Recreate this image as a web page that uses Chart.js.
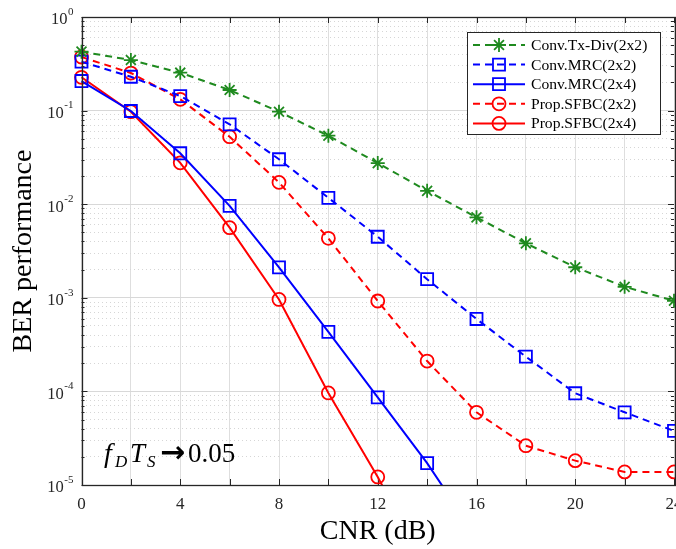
<!DOCTYPE html>
<html>
<head>
<meta charset="utf-8">
<title>BER vs CNR</title>
<script src="https://cdn.jsdelivr.net/npm/chart.js@4.4.0/dist/chart.umd.min.js"></script>
<style>
    html, body { margin: 0; padding: 0; background: #fff; overflow: hidden; }
    #wrap { width: 700px; height: 549px; }
</style>
</head>
<body>
<div id="wrap"><canvas id="berChart"></canvas></div>
<script>
// CNR (dB) on the x axis
const cnr = [0, 2, 4, 6, 8, 10, 12, 14, 16, 18, 20, 22, 24];

// BER values (last points of the 2x4 curves fall below 1e-5)
const txDiv2x2 = [0.426, 0.347, 0.254, 0.166, 0.0973, 0.0539, 0.0275, 0.0139, 0.00724, 0.00382, 0.00212, 0.00131, 0.00093];
const mrc2x2 = [0.333, 0.230, 0.143, 0.0714, 0.0302, 0.0117, 0.00449, 0.00158, 0.000594, 0.000235, 0.0000955, 0.0000598, 0.0000378];
const mrc2x4 = [0.207, 0.099, 0.035, 0.0096, 0.00211, 0.000432, 0.0000865, 0.0000171, 0.0000028];
const sfbc2x2 = [0.374, 0.252, 0.132, 0.0526, 0.0171, 0.00432, 0.000924, 0.000211, 0.0000598, 0.0000263, 0.0000182, 0.0000138, 0.0000138];
const sfbc2x4 = [0.227, 0.0973, 0.0277, 0.00561, 0.00096, 0.0000962, 0.0000122, 0.0000012];

const seriesNames = ['Conv.Tx-Div(2x2)', 'Conv.MRC(2x2)', 'Conv.MRC(2x4)', 'Prop.SFBC(2x2)', 'Prop.SFBC(2x4)'];

// tick labels
const xTickLabels = [0, 4, 8, 12, 16, 20, 24];
const yDecades = [-5, -4, -3, -2, -1, 0];

const GREEN = '#1f8a1f';
const BLUE = '#0000ff';
const RED = '#ff0000';
const AXIS = '#262626';
const DASH = [7, 5];

// every 1..9 x 10^k tick for the log grid
const yTickValues = [];
yDecades.forEach(function(d) {
    if (d === 0) { yTickValues.push(1); return; }
    for (let m = 1; m <= 9; m++) yTickValues.push(m * Math.pow(10, d));
});

function isMajor(v) {
    const lg = Math.log10(v);
    return Math.abs(lg - Math.round(lg)) < 1e-6;
}

function toPoints(ys) {
    return ys.map((y, i) => ({ x: cnr[i], y: y }));
}

const styles = [
    { color: GREEN, dash: DASH, point: 'star', radius: 7 },
    { color: BLUE, dash: DASH, point: 'rect', radius: 8.5 },
    { color: BLUE, dash: [], point: 'rect', radius: 8.5 },
    { color: RED, dash: DASH, point: 'circle', radius: 6.5 },
    { color: RED, dash: [], point: 'circle', radius: 6.5 }
];
const seriesData = [txDiv2x2, mrc2x2, mrc2x4, sfbc2x2, sfbc2x4];

const datasets = seriesData.map(function(vals, i) {
    const s = styles[i];
    return {
        label: seriesNames[i],
        data: toPoints(vals),
        borderColor: s.color,
        backgroundColor: 'rgba(0,0,0,0)',
        borderWidth: 2,
        borderDash: s.dash,
        pointStyle: s.point,
        pointRadius: s.radius,
        pointHoverRadius: s.radius,
        pointBorderColor: s.color,
        pointBackgroundColor: 'rgba(0,0,0,0)',
        pointBorderWidth: 1.8,
        tension: 0,
        clip: { left: 14, right: 14, top: 14, bottom: 0 }
    };
});

// draw one legend marker by hand
function drawMarker(ctx, style, x, y, r) {
    ctx.beginPath();
    if (style === 'circle') {
        ctx.arc(x, y, r, 0, Math.PI * 2);
    } else if (style === 'rect') {
        const h = r * Math.SQRT1_2;
        ctx.rect(x - h, y - h, 2 * h, 2 * h);
    } else {
        for (let k = 0; k < 4; k++) {
            const a = k * Math.PI / 4;
            ctx.moveTo(x - r * Math.cos(a), y - r * Math.sin(a));
            ctx.lineTo(x + r * Math.cos(a), y + r * Math.sin(a));
        }
    }
    ctx.stroke();
}

const figurePlugin = {
    id: 'figure',
    beforeDatasetsDraw(chart) {
        const ctx = chart.ctx;
        const area = chart.chartArea;
        const xs = chart.scales.x;
        const ys = chart.scales.y;
        ctx.save();
        ctx.strokeStyle = AXIS;
        ctx.lineWidth = 1;
        ctx.beginPath();
        // inner tick marks, MATLAB style
        for (let v = 0; v <= 24; v += 2) {
            const px = Math.round(xs.getPixelForValue(v)) + 0.5;
            ctx.moveTo(px, area.bottom); ctx.lineTo(px, area.bottom - 6);
            ctx.moveTo(px, area.top); ctx.lineTo(px, area.top + 6);
        }
        yTickValues.forEach(function(v) {
            const py = Math.round(ys.getPixelForValue(v)) + 0.5;
            const len = isMajor(v) ? 6 : 3;
            ctx.moveTo(area.left, py); ctx.lineTo(area.left + len, py);
            ctx.moveTo(area.right, py); ctx.lineTo(area.right - len, py);
        });
        ctx.stroke();
        ctx.restore();
    },
    afterDraw(chart) {
        const ctx = chart.ctx;
        const area = chart.chartArea;
        const ys = chart.scales.y;
        ctx.save();

        // axes box
        ctx.strokeStyle = AXIS;
        ctx.lineWidth = 1.3;
        ctx.strokeRect(Math.round(area.left) + 0.5, Math.round(area.top) + 0.5,
            Math.round(area.right - area.left), Math.round(area.bottom - area.top));

        // y tick labels 10^k
        ctx.fillStyle = AXIS;
        ctx.textBaseline = 'middle';
        const rightEdge = area.left - 8;
        yDecades.forEach(function(d) {
            const py = ys.getPixelForValue(Math.pow(10, d));
            const expText = String(d);
            ctx.font = '11px "Liberation Serif"';
            const ew = ctx.measureText(expText).width;
            ctx.textAlign = 'left';
            ctx.fillText(expText, rightEdge - ew, py - 5);
            ctx.font = '16.5px "Liberation Serif"';
            ctx.textAlign = 'right';
            ctx.fillText('10', rightEdge - ew - 0.5, py + 3);
        });

        // annotation f_D T_S -> 0.05
        const ax = area.left + 22.5;
        const ab = area.bottom - 23;
        ctx.fillStyle = '#000';
        ctx.textAlign = 'left';
        ctx.textBaseline = 'alphabetic';
        const parts = [
            ['italic 28px "Liberation Serif"', 'f', 0, 0],
            ['italic 17px "Liberation Serif"', 'D', 11, 5],
            ['italic 27px "Liberation Serif"', 'T', 26, 0],
            ['italic 17px "Liberation Serif"', 'S', 43, 5],
            ['bold 30px "DejaVu Sans"', '\u2192', 56, 0],
            ['27px "Liberation Serif"', '0.05', 84, 0]
        ];
        parts.forEach(function(p) {
            ctx.font = p[0];
            ctx.fillText(p[1], ax + p[2], ab + p[3]);
        });

        // legend box
        const lw = 193, lh = 102;
        const lx = area.right - 14 - lw;
        const ly = area.top + 15;
        ctx.fillStyle = '#fff';
        ctx.fillRect(lx, ly, lw, lh);
        ctx.strokeStyle = AXIS;
        ctx.lineWidth = 1;
        ctx.strokeRect(Math.round(lx) + 0.5, Math.round(ly) + 0.5, lw, lh);
        ctx.font = '15.6px "Liberation Serif"';
        ctx.textBaseline = 'middle';
        seriesNames.forEach(function(name, i) {
            const s = styles[i];
            const ry = ly + 13 + i * 19.6;
            ctx.strokeStyle = s.color;
            ctx.lineWidth = 2;
            ctx.setLineDash(s.dash);
            ctx.beginPath();
            ctx.moveTo(lx + 6, ry);
            ctx.lineTo(lx + 58, ry);
            ctx.stroke();
            ctx.setLineDash([]);
            ctx.lineWidth = 1.8;
            drawMarker(ctx, s.point, lx + 32, ry, s.radius);
            ctx.fillStyle = '#000';
            ctx.fillText(name, lx + 64, ry + 1);
        });
        ctx.restore();
    }
};

document.addEventListener('DOMContentLoaded', function() {
    const ctx = document.getElementById('berChart').getContext('2d');
    new Chart(ctx, {
        type: 'line',
        data: { datasets: datasets },
        plugins: [figurePlugin],
        options: {
            responsive: true,
            maintainAspectRatio: false,
            animation: false,
            layout: { padding: { top: 17, right: 26, left: 0, bottom: 0 } },
            plugins: {
                legend: { display: false },
                tooltip: { enabled: false }
            },
            scales: {
                x: {
                    type: 'linear',
                    min: 0,
                    max: 24,
                    afterFit: function(scale) { scale.height = 64; },
                    ticks: {
                        stepSize: 2,
                        autoSkip: false,
                        maxRotation: 0,
                        padding: 9,
                        color: AXIS,
                        font: { family: 'Liberation Serif', size: 17 },
                        callback: function(v) { return xTickLabels.includes(v) ? String(v) : ''; }
                    },
                    grid: { color: '#dedede', lineWidth: 1, drawTicks: false },
                    border: { display: false },
                    title: {
                        display: true,
                        text: 'CNR (dB)',
                        color: '#000',
                        font: { family: 'Liberation Serif', size: 28 },
                        padding: { top: 0, bottom: 1 }
                    }
                },
                y: {
                    type: 'logarithmic',
                    min: 1e-5,
                    max: 1,
                    afterFit: function(scale) { scale.width = 81.5; },
                    afterBuildTicks: function(scale) {
                        scale.ticks = yTickValues.map(v => ({ value: v }));
                    },
                    ticks: { display: false },
                    grid: {
                        drawTicks: false,
                        color: function(c) {
                            if (!c.tick) return '#dedede';
                            return isMajor(c.tick.value) ? '#d8d8d8' : '#d6d6d6';
                        },
                        lineWidth: 1
                    },
                    border: {
                        display: false,
                        dash: function(c) {
                            if (!c.tick) return [];
                            return isMajor(c.tick.value) ? [] : [1, 3];
                        }
                    },
                    title: {
                        display: true,
                        text: 'BER performance',
                        color: '#000',
                        font: { family: 'Liberation Serif', size: 28 },
                        padding: { top: 7, bottom: 0 }
                    }
                }
            }
        }
    });
});
</script>
</body>
</html>
